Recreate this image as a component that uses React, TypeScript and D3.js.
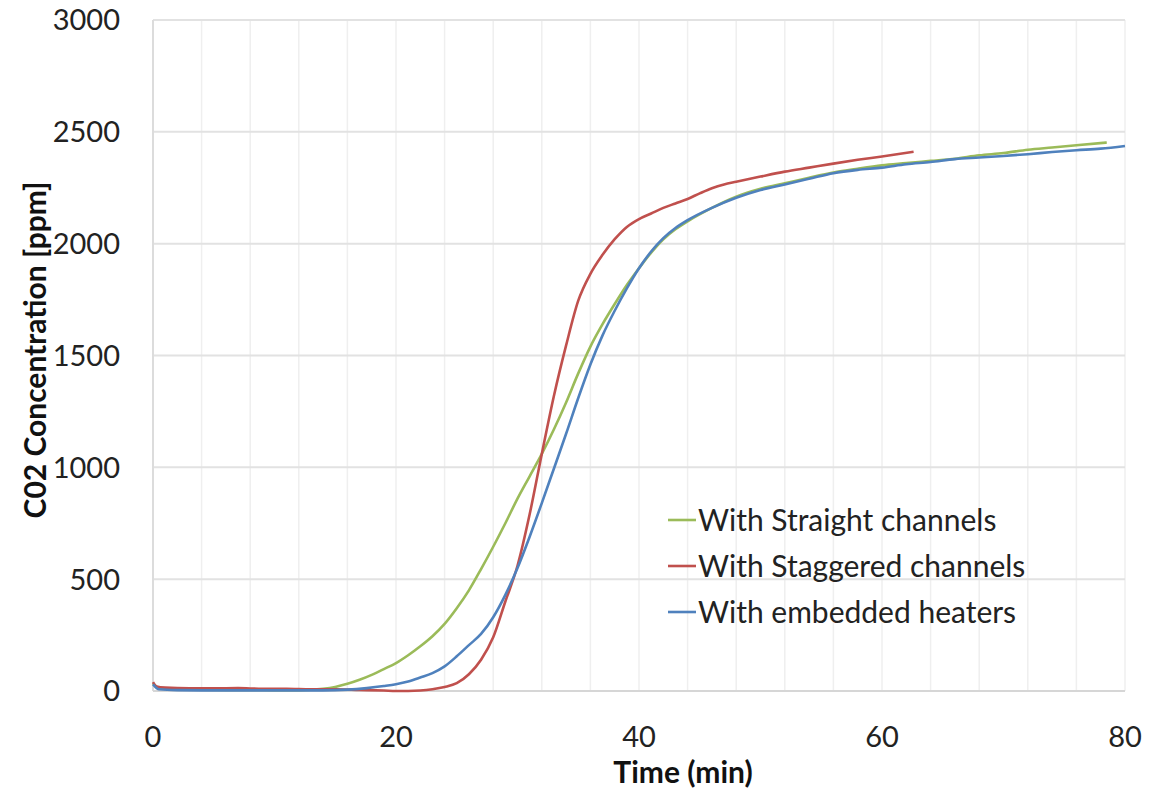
import React from "react";
import * as d3 from "d3";

// time (min) and CO2 (ppm)
const straightT = [0, 0.5, 2, 4, 6, 8, 10, 12, 14, 15, 16, 17, 18, 19, 20, 21, 22, 23, 24, 25, 26, 27, 28, 29, 30, 31, 32, 33, 34, 35, 36, 37, 38, 39, 40, 41, 42, 43, 44, 46, 48, 50, 52, 54, 56, 58, 60, 62, 64, 66, 68, 70, 72, 74, 76, 78.5];
const straightV = [35, 12, 8, 6, 5, 5, 4, 4, 10, 18, 32, 50, 72, 98, 125, 160, 200, 245, 300, 370, 450, 545, 645, 750, 860, 960, 1060, 1170, 1290, 1420, 1540, 1640, 1730, 1815, 1890, 1960, 2020, 2065, 2100, 2160, 2210, 2245, 2270, 2295, 2318, 2335, 2350, 2360, 2370, 2380, 2395, 2405, 2420, 2430, 2440, 2452];

const staggeredT = [0, 0.3, 1, 3, 5, 7, 9, 11, 13, 15, 17, 19, 20, 21, 22, 23, 24, 25, 26, 27, 28, 29, 30, 31, 32, 33, 34, 35, 36, 37, 38, 39, 40, 41, 42, 43, 44, 45, 46, 47, 48, 50, 52, 54, 56, 58, 60, 62.6];
const staggeredV = [40, 20, 15, 12, 12, 13, 10, 10, 8, 8, 5, 2, 0, 0, 2, 8, 18, 35, 75, 140, 240, 400, 560, 790, 1060, 1320, 1545, 1745, 1865, 1950, 2020, 2075, 2110, 2135, 2160, 2180, 2200, 2225, 2248, 2265, 2277, 2300, 2322, 2340, 2358, 2375, 2390, 2411];

const heatersT = [0, 0.5, 2, 4, 6, 8, 10, 12, 14, 16, 17.6, 19, 20, 21, 22, 23, 24, 25, 26, 27, 28, 29, 30, 31, 32, 33, 34, 35, 36, 37, 38, 39, 40, 41, 42, 43, 44, 46, 48, 50, 52, 54, 56, 58, 60, 62, 64, 66, 68, 70, 72, 74, 76, 78, 80];
const heatersV = [30, 8, 4, 3, 3, 3, 3, 3, 3, 6, 13, 22, 30, 42, 60, 80, 110, 155, 205, 255, 330, 430, 550, 690, 840, 995, 1150, 1310, 1460, 1590, 1700, 1800, 1890, 1965, 2025, 2070, 2105, 2160, 2205, 2240, 2265, 2290, 2315, 2330, 2340, 2355, 2365, 2378, 2385, 2392, 2400, 2410, 2418, 2425, 2437];

const seriesNames = ["With Straight channels", "With Staggered channels", "With embedded heaters"];
const seriesColors = ["#9bbb59", "#c0504d", "#4f81bd"];

const xTicks = [0, 20, 40, 60, 80];
const yTicks = [0, 500, 1000, 1500, 2000, 2500, 3000];

const W = 1151;
const H = 789;
const margin = { left: 153, right: 26, top: 20, bottom: 98 };
const font = "Lato, 'Open Sans', sans-serif";

export default function App() {
  const x = d3.scaleLinear().domain([0, 80]).range([margin.left, W - margin.right]);
  const y = d3.scaleLinear().domain([0, 3000]).range([H - margin.bottom, margin.top]);

  const series = [
    straightT.map((t, i) => [t, straightV[i]]),
    staggeredT.map((t, i) => [t, staggeredV[i]]),
    heatersT.map((t, i) => [t, heatersV[i]]),
  ];
  const line = d3
    .line<number[]>()
    .x((d) => x(d[0]))
    .y((d) => y(d[1]))
    .curve(d3.curveMonotoneX);

  const minorX = d3.range(0, 81, 4);

  return (
    <div style={{ position: "absolute", left: 0, top: 0 }}>
      <svg width={W} height={H} style={{ display: "block", background: "#fff" }}>
        {/* vertical minor grid */}
        {minorX.map((t) => (
          <line key={"vx" + t} x1={x(t)} x2={x(t)} y1={y(3000)} y2={y(0)} stroke="#efefef" strokeWidth={1.5} />
        ))}
        {/* horizontal grid */}
        {yTicks.map((v) => (
          <line key={"hy" + v} x1={x(0)} x2={x(80)} y1={y(v)} y2={y(v)} stroke="#e2e2e2" strokeWidth={2} />
        ))}
        {/* axes */}
        <line x1={x(0)} x2={x(0)} y1={y(3000)} y2={y(0)} stroke="#dcdcdc" strokeWidth={2} />
        <line x1={x(0)} x2={x(80)} y1={y(0)} y2={y(0)} stroke="#d6d6d6" strokeWidth={2} />

        {/* y tick labels */}
        {yTicks.map((v) => (
          <text key={"yl" + v} x={margin.left - 33} y={y(v)} dy="0.36em" textAnchor="end" fontFamily={font} fontSize={29} fill="#222">
            {v}
          </text>
        ))}
        {/* x tick labels */}
        {xTicks.map((t) => (
          <text key={"xl" + t} x={x(t)} y={y(0) + 56} textAnchor="middle" fontFamily={font} fontSize={29} fill="#222">
            {t}
          </text>
        ))}

        {/* series */}
        {series.map((s, i) => (
          <path key={"s" + i} d={line(s) || ""} fill="none" stroke={seriesColors[i]} strokeWidth={2.6} />
        ))}

        {/* legend */}
        {seriesNames.map((n, i) => (
          <g key={"lg" + i} transform={`translate(668, ${520 + i * 46})`}>
            <line x1={0} x2={28} y1={0} y2={0} stroke={seriesColors[i]} strokeWidth={2.6} />
            <text x={30} y={0} dy="0.36em" fontFamily={font} fontSize={30} fill="#222">
              {n}
            </text>
          </g>
        ))}

        {/* axis titles */}
        <text x={683} y={783} textAnchor="middle" fontFamily={font} fontSize={30} fontWeight="bold" fill="#111">
          Time (min)
        </text>
        <text
          transform={`translate(46, 350) rotate(-90)`}
          textAnchor="middle"
          fontFamily={font}
          fontSize={30}
          fontWeight="bold"
          fill="#111"
        >
          C02 Concentration [ppm]
        </text>
      </svg>
    </div>
  );
}
